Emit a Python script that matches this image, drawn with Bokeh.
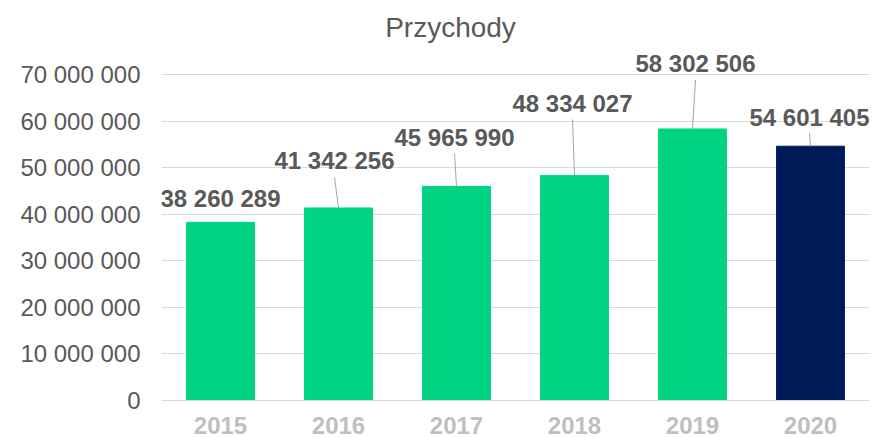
from bokeh.plotting import figure
from bokeh.models import (ColumnDataSource, FactorRange, Range1d, FixedTicker,
                          LabelSet, Label)
from bokeh.core.properties import value
from bokeh.embed import file_html
from bokeh.resources import INLINE

# ---- data ----
years = ["2015", "2016", "2017", "2018", "2019", "2020"]
revenue = [38260289, 41342256, 45965990, 48334027, 58302506, 54601405]
y_ticks = [0, 10000000, 20000000, 30000000, 40000000, 50000000, 60000000, 70000000]
y_tick_labels = ["0", "10 000 000", "20 000 000", "30 000 000", "40 000 000",
                 "50 000 000", "60 000 000", "70 000 000"]
title_text = "Przychody"

# ---- style ----
GREEN = "#00D382"
NAVY = "#001A57"
bar_colors = [GREEN] * 5 + [NAVY]
FONT = "Liberation Sans"
GREY = "#595959"

W, H = 877, 437
B_TOP, B_BOTTOM, B_LEFT, B_RIGHT = 0, 37, 161, 8
FRAME_H = H - B_TOP - B_BOTTOM
FRAME_W = W - B_LEFT - B_RIGHT
AXIS_MAX = 70000000
ppv = 326 / AXIS_MAX             # pixels per value unit (0..70M spans 326 px)
Y_TOP = FRAME_H / ppv            # extra head-room for title and labels
ppc = FRAME_W / len(years)       # pixels per category

# label placement (pixel offsets from bar top)
lab_dx = [0, -4, -2, -2, 3, -1]
lab_dy = [24, 47, 49, 72, 65, 29]
has_leader = [False, True, True, True, True, True]

labels = [f"{v:,}".replace(",", " ") for v in revenue]
xs = [i + 0.5 for i in range(len(years))]

src = ColumnDataSource(dict(
    year=years, value=revenue, color=bar_colors, label=labels,
    lx=[x + dx / ppc for x, dx in zip(xs, lab_dx)],
    ly=[v + dy / ppv for v, dy in zip(revenue, lab_dy)],
))

seg_idx = [i for i, h in enumerate(has_leader) if h]
seg = ColumnDataSource(dict(
    x0=[xs[i] for i in seg_idx],
    y0=[revenue[i] for i in seg_idx],
    x1=[xs[i] + lab_dx[i] / ppc for i in seg_idx],
    y1=[revenue[i] + (lab_dy[i] - 16) / ppv for i in seg_idx],
))

p = figure(width=W, height=H, output_backend="svg", toolbar_location=None,
           x_range=FactorRange(*years, range_padding=0),
           y_range=Range1d(0, Y_TOP),
           min_border_top=B_TOP, min_border_bottom=B_BOTTOM,
           min_border_left=B_LEFT, min_border_right=B_RIGHT)
p.outline_line_color = None
p.background_fill_color = "white"
p.border_fill_color = "white"

p.vbar(x="year", top="value", width=0.575, color="color", source=src)
p.segment(x0="x0", y0="y0", x1="x1", y1="y1", source=seg,
          line_color="#A6A6A6", line_width=1)

p.add_layout(LabelSet(x="lx", y="ly", text="label", source=src,
                      text_align="center", text_baseline="middle",
                      text_font=value(FONT), text_font_size=value("24px"),
                      text_font_style="bold", text_color=GREY))

p.add_layout(Label(x=(450 - B_LEFT) / ppc, y=(400 - 27) / ppv, text=title_text,
                   text_align="center", text_baseline="middle",
                   text_font=FONT, text_font_size="28px", text_color=GREY))

# axes
p.yaxis.ticker = FixedTicker(ticks=y_ticks)
p.yaxis.major_label_overrides = {t: l for t, l in zip(y_ticks, y_tick_labels)}
p.yaxis.axis_line_color = None
p.yaxis.major_tick_line_color = None
p.yaxis.minor_tick_line_color = None
p.yaxis.major_tick_out = 0
p.yaxis.major_tick_in = 0
p.yaxis.major_label_standoff = 21
p.yaxis.major_label_text_font = FONT
p.yaxis.major_label_text_font_size = "24px"
p.yaxis.major_label_text_color = GREY

p.xaxis.axis_line_color = "#D9D9D9"
p.xaxis.major_tick_line_color = None
p.xaxis.minor_tick_line_color = None
p.xaxis.major_tick_out = 0
p.xaxis.major_tick_in = 0
p.xaxis.major_label_standoff = 16
p.xaxis.major_label_text_font = FONT
p.xaxis.major_label_text_font_size = "24px"
p.xaxis.major_label_text_font_style = "bold"
p.xaxis.major_label_text_color = "#BFBFBF"

p.xgrid.grid_line_color = None
p.ygrid.grid_line_color = "#D9D9D9"
p.ygrid.grid_line_width = 1

open("out.html", "w").write(file_html(p, INLINE))
